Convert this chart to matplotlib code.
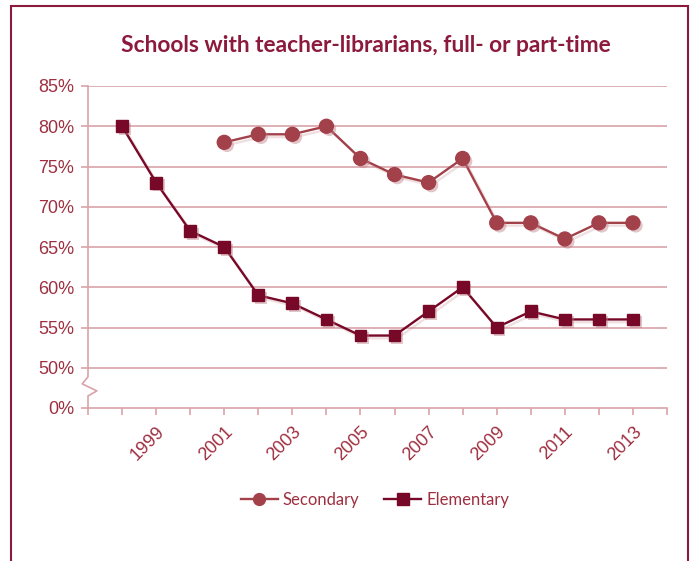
import numpy as np
import matplotlib
matplotlib.use("Agg")
import matplotlib.pyplot as plt
import matplotlib.patheffects as pe
from matplotlib.patches import Rectangle
from matplotlib.lines import Line2D
from matplotlib.ticker import FuncFormatter

# data
years = list(range(1998, 2014))
elementary = [80, 73, 67, 65, 59, 58, 56, 54, 54, 57, 60, 55, 57, 56, 56, 56]
sec_years = list(range(2001, 2014))
secondary = [78, 79, 79, 80, 76, 74, 73, 76, 68, 68, 66, 68, 68]
ytick_vals = [0, 50, 55, 60, 65, 70, 75, 80, 85]
label_years = list(range(1999, 2014, 2))

elem_color = "#780828"
sec_color = "#a3414b"
grid_color = "#d9a3aa"
text_color = "#9e2f40"
frame_color = "#8b1a3c"


# broken axis: 0 -> 50 squeezed into one step, then 5% per step
def fwd(v):
    v = np.asarray(v, dtype=float)
    return np.where(v >= 50, (v - 45) / 5.0, v / 50.0)


def inv(p):
    p = np.asarray(p, dtype=float)
    return np.where(p >= 1, p * 5.0 + 45, p * 50.0)


fig = plt.figure(figsize=(6.92, 5.61), dpi=100)
ax = fig.add_axes([88 / 692, 1 - 408 / 561, (667 - 88) / 692, (408 - 86) / 561])
ax.set_yscale("function", functions=(fwd, inv))
ax.set_ylim(0, 85)
ax.set_xlim(1997, 2014)

line_shadow = [pe.SimpleLineShadow(offset=(2, -2), shadow_color="#c08088", alpha=0.25), pe.Normal()]
mk_shadow = [pe.SimplePatchShadow(offset=(2, -2), shadow_rgbFace="#c08088", alpha=0.45), pe.Normal()]

# lines, then markers on top (markers get the soft shadow)
ax.plot(sec_years, secondary, color=sec_color, lw=1.7, path_effects=line_shadow, zorder=3)
ax.plot(years, elementary, color=elem_color, lw=1.7, path_effects=line_shadow, zorder=3)
ax.plot(sec_years, secondary, ls="none", marker="o", ms=10, color=sec_color,
        path_effects=mk_shadow, zorder=4)
ax.plot(years, elementary, ls="none", marker="s", ms=8.5, color=elem_color,
        path_effects=mk_shadow, zorder=4)

# grid lines
for v in ytick_vals[1:]:
    ax.axhline(v, color=grid_color, lw=1.2, zorder=1)

ax.set_yticks(ytick_vals)
ax.yaxis.set_major_formatter(FuncFormatter(lambda v, p: f"{v:.0f}%"))
ax.set_xticks(range(1997, 2015))
ax.set_xticklabels([str(y) if y in label_years else "" for y in range(1997, 2015)],
                   rotation=45, ha="right", rotation_mode="anchor")

for s in ["top", "right", "left"]:
    ax.spines[s].set_visible(False)
ax.spines["bottom"].set_color(grid_color)
ax.spines["bottom"].set_linewidth(1.2)
ax.tick_params(axis="both", colors=grid_color, length=5, width=1.2,
               labelcolor=text_color, labelsize=13)
ax.tick_params(axis="x", pad=6)
ax.tick_params(axis="y", pad=5)
for lab in ax.get_xticklabels() + ax.get_yticklabels():
    lab.set_family(["Liberation Sans", "DejaVu Sans"])

# left spine with break zig-zag
zx = [1997, 1997, 1997.26, 1996.83, 1997, 1997]
ax.plot(zx, [0, 0.3 * 50, 0.425 * 50, 0.6 * 50, 0.775 * 50, 85], color=grid_color,
        lw=1.2, clip_on=False, zorder=2)

fig.text(366 / 692, 1 - 45 / 561, "Schools with teacher-librarians, full- or part-time",
         ha="center", va="center", fontsize=16.4, fontweight="bold", color=frame_color,
         family="Lato")

handles = [Line2D([], [], color=sec_color, lw=1.7, marker="o", ms=8.5),
           Line2D([], [], color=elem_color, lw=1.7, marker="s", ms=8)]
leg = fig.legend(handles, ["Secondary", "Elementary"], loc="center",
                 bbox_to_anchor=(375 / 692, 1 - 500 / 561), ncol=2,
                 frameon=False, handlelength=2.2, columnspacing=1.5, handletextpad=0.3,
                 prop={"family": "Lato", "size": 12})
for t in leg.get_texts():
    t.set_color(text_color)

fig.patches.append(Rectangle((11 / 692, -0.1), (688 - 11) / 692, 1.1 - 6 / 561,
                             transform=fig.transFigure, fill=False,
                             edgecolor=frame_color, lw=1.5))

fig.savefig("out.png", dpi=100)
